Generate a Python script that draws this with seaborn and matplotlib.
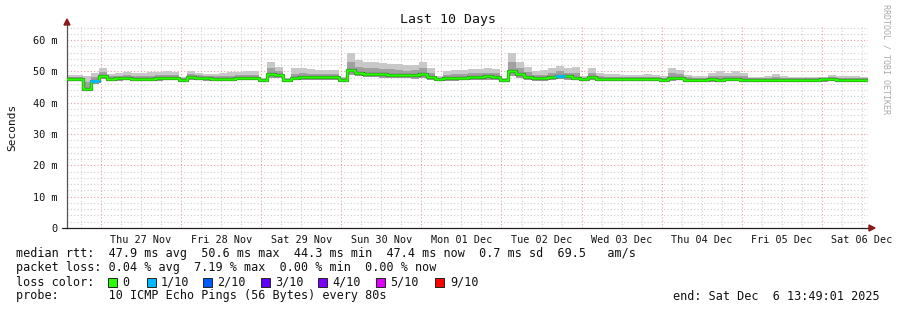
import datetime as dt
import numpy as np
import pandas as pd
import matplotlib
matplotlib.use("Agg")
import matplotlib.pyplot as plt
import matplotlib.dates as mdates
from matplotlib.patches import Rectangle
import seaborn as sns

# ---------------- data (ms), one value per 2.4 h slot ----------------
start = dt.datetime(2025, 11, 26, 13, 49, 1)
end = dt.datetime(2025, 12, 6, 13, 49, 1)

median = [47.5, 47.5, 44.3, 47.0, 48.6, 47.6, 47.9, 47.9, 47.7, 47.6,
          47.7, 47.8, 47.9, 47.9, 47.2, 48.2, 48.0, 47.8, 47.6, 47.6,
          47.6, 47.9, 47.9, 47.9, 47.1, 49.2, 48.8, 47.2, 48.0, 48.2,
          48.3, 48.2, 48.2, 48.1, 47.4, 50.3, 49.6, 49.3, 49.1, 49.0,
          48.9, 48.8, 48.7, 48.9, 49.3, 48.2, 47.5, 47.8, 47.9, 48.0,
          48.3, 48.3, 48.4, 48.2, 47.1, 50.2, 49.0, 48.3, 47.9, 47.8,
          48.2, 48.6, 48.4, 48.0, 47.5, 48.3, 47.7, 47.6, 47.6, 47.5,
          47.6, 47.6, 47.5, 47.5, 47.4, 47.9, 48.0, 47.4, 47.4, 47.4,
          47.5, 47.4, 47.6, 47.6, 47.3, 47.2, 47.4, 47.4, 47.3, 47.3,
          47.3, 47.3, 47.3, 47.3, 47.5, 47.5, 47.4, 47.4, 47.3, 47.3]

smoke_max = [48.8, 48.8, 48.5, 49.5, 51.0, 49.3, 49.5, 49.8, 49.5, 49.6,
             49.8, 49.9, 50.0, 49.8, 48.3, 50.0, 49.5, 49.2, 49.3, 49.5,
             49.8, 49.8, 50.0, 50.2, 48.0, 53.0, 51.5, 48.0, 51.0, 51.0,
             50.8, 50.5, 50.5, 50.5, 48.3, 56.0, 53.5, 53.0, 53.0, 52.8,
             52.5, 52.3, 52.0, 52.0, 53.0, 51.0, 48.5, 50.0, 50.3, 50.5,
             50.8, 50.8, 51.0, 50.8, 48.0, 56.0, 53.0, 51.5, 50.0, 50.3,
             51.0, 51.8, 51.0, 51.5, 48.5, 51.0, 49.5, 49.0, 49.0, 48.8,
             48.8, 48.8, 49.0, 48.8, 48.6, 51.0, 50.5, 48.8, 48.6, 48.6,
             49.5, 50.0, 49.5, 50.0, 49.5, 48.3, 48.3, 48.5, 49.0, 48.5,
             48.3, 48.2, 48.2, 48.2, 48.3, 48.8, 48.5, 48.6, 48.5, 48.2]

smoke_up = [48.2, 48.2, 46.5, 48.2, 49.8, 48.5, 48.6, 48.7, 48.5, 48.5,
            48.6, 48.7, 48.8, 48.7, 47.8, 49.0, 48.7, 48.5, 48.4, 48.5,
            48.6, 48.7, 48.8, 48.9, 47.6, 51.0, 50.0, 47.7, 49.3, 49.4,
            49.3, 49.2, 49.2, 49.1, 47.9, 53.0, 51.5, 51.2, 51.0, 50.8,
            50.6, 50.4, 50.2, 50.3, 51.0, 49.5, 48.0, 48.8, 49.0, 49.2,
            49.5, 49.5, 49.6, 49.4, 47.6, 53.0, 51.0, 49.7, 48.9, 48.9,
            49.4, 50.0, 49.6, 49.5, 48.0, 49.6, 48.5, 48.3, 48.3, 48.1,
            48.2, 48.2, 48.3, 48.1, 48.0, 49.4, 49.2, 48.1, 48.0, 48.0,
            48.4, 48.6, 48.4, 48.6, 48.4, 47.8, 47.8, 47.9, 48.2, 48.0,
            47.8, 47.8, 47.8, 47.8, 47.9, 48.2, 48.0, 48.0, 48.0, 47.8]

smoke_min = [46.8, 46.8, 43.8, 46.0, 47.6, 46.8, 47.0, 47.1, 47.0, 46.9,
             47.0, 47.0, 47.1, 47.1, 46.6, 47.2, 47.1, 47.0, 46.9, 46.9,
             46.9, 47.1, 47.1, 47.1, 46.5, 48.0, 47.8, 46.6, 47.2, 47.4,
             47.4, 47.3, 47.3, 47.3, 46.8, 48.8, 48.4, 48.2, 48.1, 48.0,
             47.9, 47.8, 47.8, 47.7, 48.0, 47.2, 46.8, 46.9, 47.0, 47.1,
             47.4, 47.4, 47.4, 47.3, 46.5, 48.6, 47.9, 47.4, 47.0, 46.9,
             47.2, 47.5, 47.4, 47.1, 46.8, 47.3, 46.9, 46.8, 46.8, 46.8,
             46.9, 46.9, 46.8, 46.8, 46.7, 47.0, 47.1, 46.8, 46.8, 46.7,
             46.7, 46.7, 46.8, 46.8, 46.6, 46.5, 46.7, 46.7, 46.6, 46.6,
             46.6, 46.6, 46.6, 46.6, 46.7, 46.8, 46.7, 46.7, 46.6, 46.6]

loss = [0, 0, 0, 1, 0, 0, 0, 0, 0, 0,
        0, 0, 0, 0, 0, 0, 0, 0, 0, 0,
        0, 0, 0, 0, 0, 0, 0, 0, 0, 0,
        0, 0, 0, 0, 0, 0, 0, 0, 0, 0,
        0, 0, 0, 0, 0, 0, 0, 0, 0, 0,
        0, 0, 0, 0, 0, 0, 0, 0, 0, 0,
        0, 1, 0, 0, 0, 0, 0, 0, 0, 0,
        0, 0, 0, 0, 0, 0, 0, 0, 0, 0,
        0, 0, 0, 0, 0, 0, 0, 0, 0, 0,
        0, 0, 0, 0, 0, 0, 0, 0, 0, 0]

loss_labels = ["0", "1/10", "2/10", "3/10", "4/10", "5/10", "9/10"]
loss_colors = ["#26ff00", "#00b8ff", "#0059ff", "#5e00ff", "#7e00ff", "#dd00ff", "#ff0000"]

y_ticks = [0, 10, 20, 30, 40, 50, 60]

legend_line1 = "median rtt:  47.9 ms avg  50.6 ms max  44.3 ms min  47.4 ms now  0.7 ms sd  69.5   am/s"
legend_line2 = "packet loss: 0.04 % avg  7.19 % max  0.00 % min  0.00 % now"
legend_line3 = "loss color:"
legend_line4 = "probe:       10 ICMP Echo Pings (56 Bytes) every 80s"
end_text = "end: Sat Dec  6 13:49:01 2025"

# ---------------- build frame ----------------
n = len(median)
step = (end - start) / n
times = [start + step * i for i in range(n + 1)]
df = pd.DataFrame({
    "time": times,
    "median": median + [median[-1]],
    "smoke_max": smoke_max + [smoke_max[-1]],
    "smoke_up": smoke_up + [smoke_up[-1]],
    "smoke_min": smoke_min + [smoke_min[-1]],
})

# ---------------- figure ----------------
sns.set_theme(style="white")
plt.rcParams["font.family"] = ["DejaVu Sans Mono"]

W, H = 897, 310
fig = plt.figure(figsize=(W / 100, H / 100), dpi=100)
fig.patch.set_facecolor("white")
x0, x1, yb, yt = 67, 868, 228, 25
ax = fig.add_axes([x0 / W, 1 - yb / H, (x1 - x0) / W, (yb - yt) / H])
ax.set_facecolor("white")
ax.set_xlim(mdates.date2num(start), mdates.date2num(end))
ax.set_ylim(0, 64.8)

# grid (drawn manually: minor gray, major red)
for v in np.arange(0, 65, 2):
    if v % 10 == 0:
        continue
    ax.axhline(v, color="#cfcfcf", lw=0.8, ls=(0, (1, 2)), zorder=0)
for v in y_ticks[1:]:
    ax.axhline(v, color="#e8a0a0", lw=0.8, ls=(0, (1, 2)), zorder=0.5)
day0 = dt.datetime(2025, 11, 27)
for h in range(-12, 10 * 24 + 1, 6):
    t = day0 + dt.timedelta(hours=h)
    if t <= start or t >= end:
        continue
    if h % 24 == 0:
        ax.axvline(mdates.date2num(t), color="#e8a0a0", lw=0.8, ls=(0, (1, 2)), zorder=0.5)
    else:
        ax.axvline(mdates.date2num(t), color="#cfcfcf", lw=0.8, ls=(0, (1, 2)), zorder=0)

# smoke
tn = mdates.date2num(df["time"])
ax.fill_between(tn, df["smoke_min"], df["smoke_max"], step="post",
                color="#c8c8c8", lw=0, zorder=2)
ax.fill_between(tn, df["smoke_min"], df["smoke_up"], step="post",
                color="#a0a0a0", lw=0, zorder=2.1)

# median line
df["tnum"] = tn
sns.lineplot(data=df, x="tnum", y="median", ax=ax, color="#222222",
             lw=2.3, drawstyle="steps-post", zorder=3)
sns.lineplot(data=df, x="tnum", y="median", ax=ax, color=loss_colors[0],
             lw=1.8, drawstyle="steps-post", zorder=4)
for i, l in enumerate(loss):
    if l > 0:
        sns.lineplot(x=[tn[i], tn[i + 1]], y=[median[i], median[i]], ax=ax,
                     color=loss_colors[l], lw=2.0, zorder=5)

ax.set_xlabel("")
ax.set_ylabel("")

# axes styling
for s in ["top", "right"]:
    ax.spines[s].set_visible(False)
ax.spines["left"].set_color("#555555")
ax.spines["bottom"].set_color("#222222")
ax.spines["left"].set_linewidth(0.9)
ax.spines["bottom"].set_linewidth(0.9)
ax.set_yticks(y_ticks)
ax.set_yticklabels(["0"] + [f"{v} m" for v in y_ticks[1:]])
ax.tick_params(axis="y", length=4, width=0.8, color="#555555", labelsize=7.4,
               pad=3, labelcolor="#111111")
ax.xaxis.set_major_locator(mdates.HourLocator(byhour=[12]))
ax.xaxis.set_major_formatter(mdates.DateFormatter("%a %d %b"))
ax.tick_params(axis="x", length=0, labelsize=7.3, pad=5, labelcolor="#111111")
ax.set_xlim(mdates.date2num(start), mdates.date2num(end))
ax.set_ylim(0, 64.8)

# arrows
fig.add_artist(plt.Polygon([[(x0 - 3) / W, 1 - 25 / H], [(x0 + 3) / W, 1 - 25 / H],
                            [x0 / W, 1 - 19 / H]], closed=True, color="#8b1a1a",
                           transform=fig.transFigure))
fig.add_artist(plt.Polygon([[(x1 + 1) / W, 1 - 225 / H], [(x1 + 1) / W, 1 - 231 / H],
                            [(x1 + 7) / W, 1 - 228 / H]], closed=True, color="#8b1a1a",
                           transform=fig.transFigure))
fig.add_artist(plt.Line2D([62 / W, x0 / W], [1 - yb / H, 1 - yb / H], color="#222222",
                          lw=0.9, transform=fig.transFigure))

# texts
def ftext(x, y, s, **kw):
    fig.text(x / W, 1 - y / H, s, va="center", **kw)

ftext(448, 19, "Last 10 Days", ha="center", fontsize=9.5, color="#111111")
fig.text(12 / W, 1 - 127 / H, "Seconds", rotation=90, ha="center", va="center",
         fontsize=8, color="#111111")
fig.text(886 / W, 1 - 59 / H, "RRDTOOL / TOBI OETIKER", rotation=270, ha="center",
         va="center", fontsize=6, color="#aaaaaa")

FS = 8.5
ftext(16, 254, legend_line1, fontsize=FS, color="#111111")
ftext(16, 268, legend_line2, fontsize=FS, color="#111111")
ftext(16, 282, legend_line3, fontsize=FS, color="#111111")
box_x = [108, 147, 203, 261, 318, 376, 435]
lab_x = [122, 161, 217, 275, 332, 390, 450]
for c, lab, bx, lx in zip(loss_colors, loss_labels, box_x, lab_x):
    fig.add_artist(Rectangle((bx / W, 1 - 287 / H), 9 / W, 9 / H, facecolor=c,
                             edgecolor="#222222", lw=0.7, transform=fig.transFigure))
    ftext(lx, 282, lab, fontsize=FS, color="#111111")
ftext(16, 296, legend_line4, fontsize=FS, color="#111111")
ftext(880, 296, end_text, ha="right", fontsize=FS, color="#111111")

fig.savefig("out.png", dpi=100, facecolor="white")
